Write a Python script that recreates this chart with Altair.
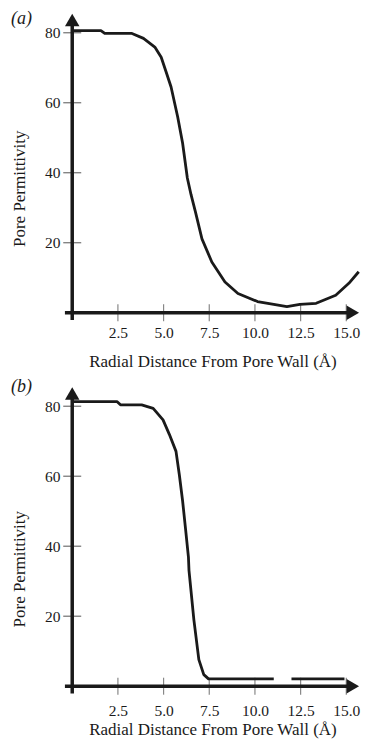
import altair as alt
import pandas as pd

# ---------------- data ----------------
# Panel (a)
a_x = [0.0, 1.57, 1.78, 3.27, 3.9, 4.52, 4.87, 5.14, 5.41, 5.77, 6.04, 6.3, 6.5,
       6.75, 7.1, 7.64, 8.36, 9.07, 10.14, 11.03, 11.75, 12.46, 13.35, 14.42, 15.14, 15.68]
a_y = [80.6, 80.6, 79.8, 79.8, 78.4, 75.9, 73.0, 68.8, 64.5, 56.0, 48.5, 38.5, 33.8,
       28.7, 21.1, 14.5, 8.8, 5.5, 3.2, 2.4, 1.75, 2.4, 2.7, 5.0, 8.4, 11.7]
a_seg = [0] * len(a_x)

# Panel (b)
b_x = [0.0, 2.46, 2.64, 3.8, 4.43, 4.97, 5.32, 5.68, 5.86, 6.04, 6.21, 6.36, 6.39,
       6.66, 6.93, 7.2, 7.46, 11.03, 12.0, 14.9]
b_y = [81.3, 81.3, 80.4, 80.4, 79.4, 76.1, 71.9, 67.1, 60.5, 53.0, 44.5, 36.9, 33.1,
       18.9, 7.6, 3.3, 2.1, 2.1, 2.1, 2.1]
b_seg = [0] * 18 + [1, 1]

x_ticks = [2.5, 5.0, 7.5, 10.0, 12.5, 15.0]
y_ticks = [20, 40, 60, 80]

panel_labels = ["(a)", "(b)"]
x_title = "Radial Distance From Pore Wall (Å)"
y_title = "Pore Permittivity"

# ---------------- layout ----------------
W = 295.5
H = 307
X_DOM = [-0.4, 15.75]
Y_DOM = [-2.1, 85.5]
FONT = "Liberation Serif"
INK = "#1a1a1a"


def panel(xs, ys, segs, label, label_y, xlab_pad, xtitle_pad, ytitle_y):
    df = pd.DataFrame({"x": xs, "y": ys, "seg": segs})
    xscale = alt.Scale(domain=X_DOM, nice=False, zero=False)
    yscale = alt.Scale(domain=Y_DOM, nice=False, zero=False)

    curve = alt.Chart(df).mark_line(color=INK, strokeWidth=2.8, strokeJoin="round").encode(
        x=alt.X("x:Q", scale=xscale,
                axis=alt.Axis(values=x_ticks, format=".1f", domain=False, ticks=False, grid=False,
                              labelFont=FONT, labelFontSize=15.5, labelColor=INK,
                              labelPadding=xlab_pad, title=x_title, titleFont=FONT,
                              titleFontSize=17, titleFontWeight="normal", titleColor=INK,
                              titlePadding=xtitle_pad)),
        y=alt.Y("y:Q", scale=yscale,
                axis=alt.Axis(values=y_ticks, domain=False, ticks=False, grid=False,
                              labelFont=FONT, labelFontSize=15.5, labelColor=INK,
                              labelPadding=5, title=y_title, titleFont=FONT,
                              titleFontSize=17, titleFontWeight="normal", titleColor=INK,
                              titlePadding=16, titleY=ytitle_y)),
        detail="seg:N",
    )

    one = alt.Data(values=[{"k": 0}])
    xt = pd.DataFrame({"t": x_ticks})
    yt = pd.DataFrame({"t": y_ticks})

    xticks = alt.Chart(xt).mark_tick(orient="vertical", size=17, thickness=1.2, color="#555").encode(
        x=alt.X("t:Q", scale=xscale), y=alt.YDatum(0))
    yticks = alt.Chart(yt).mark_tick(orient="horizontal", size=18, thickness=1.2, color="#333").encode(
        y=alt.Y("t:Q", scale=yscale), x=alt.XDatum(0))

    xaxis = alt.Chart(one).mark_rule(color=INK, strokeWidth=3.5).encode(
        y=alt.YDatum(0), x=alt.value(0), x2=alt.value(W - 8))
    yaxis = alt.Chart(one).mark_rule(color=INK, strokeWidth=3.5).encode(
        x=alt.XDatum(0), y=alt.value(H), y2=alt.value(8))

    xarrow = alt.Chart(one).mark_point(shape="triangle-right", filled=True, size=210,
                                       color=INK, opacity=1, strokeWidth=0).encode(
        x=alt.value(W - 7.2), y=alt.YDatum(0))
    yarrow = alt.Chart(one).mark_point(shape="triangle-up", filled=True, size=210,
                                       color=INK, opacity=1, strokeWidth=0).encode(
        x=alt.XDatum(0), y=alt.value(6.5))

    lab = alt.Chart(one).mark_text(text=label, font=FONT, fontStyle="italic", fontSize=18,
                                   align="left", baseline="middle", color=INK).encode(
        x=alt.value(-54), y=alt.value(label_y))

    return alt.layer(xticks, yticks, curve, xaxis, yaxis, xarrow, yarrow, lab).properties(
        width=W, height=H)


pa = panel(a_x, a_y, a_seg, panel_labels[0], 6, 5, 13, 175)
pb = panel(b_x, b_y, b_seg, panel_labels[1], 0, 10, 3, 182)

chart = alt.vconcat(pa, pb, spacing=67, bounds="flush").properties(
    padding={"left": 2, "top": 2, "right": 0, "bottom": 0}
).configure_view(stroke=None)

chart.save("out.html", embed_options={"renderer": "svg", "actions": False})
